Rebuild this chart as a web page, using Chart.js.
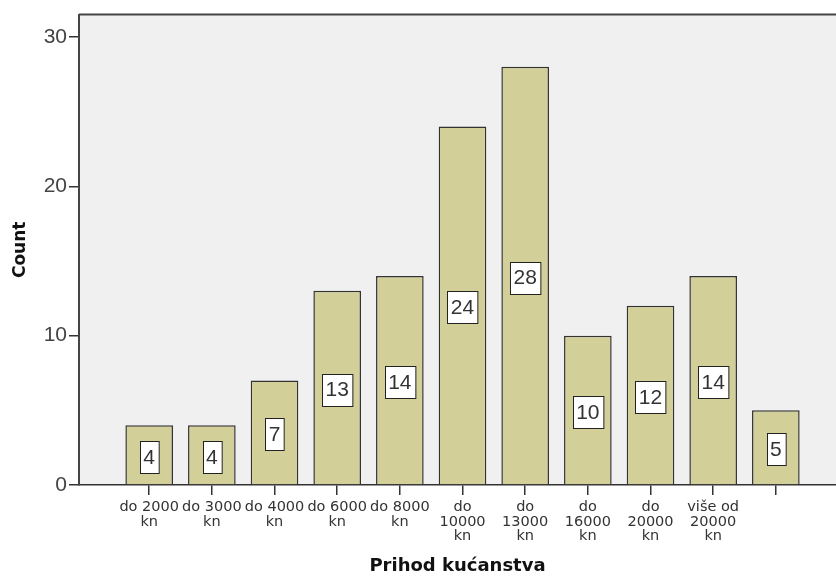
<!DOCTYPE html>
<html>
<head>
<meta charset="utf-8">
<script src="https://cdn.jsdelivr.net/npm/chart.js@4"></script>
<style>
  html, body { margin: 0; padding: 0; background: #fff; }
  #wrap { width: 836px; height: 577px; }
</style>
</head>
<body>
<div id="wrap"><canvas id="myChart"></canvas></div>
<script>
const categories = [
  ["do 2000", "kn"], ["do 3000", "kn"], ["do 4000", "kn"], ["do 6000", "kn"], ["do 8000", "kn"],
  ["do", "10000", "kn"], ["do", "13000", "kn"], ["do", "16000", "kn"], ["do", "20000", "kn"],
  ["više od", "20000", "kn"], [""]
];
const counts = [4, 4, 7, 13, 14, 24, 28, 10, 12, 14, 5];
const yTicks = [0, 10, 20, 30];

const barData = counts.map((v, i) => ({ x: i, y: v }));

// plot background + top frame line
const frame = {
  id: "frame",
  beforeDraw: (chart) => {
    const a = chart.chartArea;
    const c = chart.ctx;
    c.save();
    c.fillStyle = "#f0f0f0";
    c.fillRect(a.left, a.top, a.right - a.left, a.bottom - a.top);
    c.strokeStyle = "#444";
    c.lineWidth = 2;
    c.beginPath();
    c.moveTo(a.left, a.top);
    c.lineTo(a.right, a.top);
    c.stroke();
    c.restore();
  },
};

// white boxed count labels in the middle of each bar
const boxLabels = {
  id: "boxLabels",
  afterDatasetsDraw: (chart) => {
    const c = chart.ctx;
    const meta = chart.getDatasetMeta(0);
    c.save();
    c.font = "21px 'Liberation Sans', Arial, sans-serif";
    c.textAlign = "center";
    c.textBaseline = "middle";
    meta.data.forEach((bar, i) => {
      const txt = String(counts[i]);
      const w = c.measureText(txt).width + 7;
      const h = 32;
      const cy = (bar.y + bar.base) / 2 + 2;
      const x0 = Math.round(bar.x - w / 2) + 0.5;
      const y0 = Math.round(cy - h / 2) + 0.5;
      c.fillStyle = "#fff";
      c.fillRect(x0, y0, w, h);
      c.strokeStyle = "#222";
      c.lineWidth = 1;
      c.strokeRect(x0, y0, w, h);
      c.fillStyle = "#333";
      c.fillText(txt, bar.x, cy + 1);
    });
    c.restore();
  },
};

new Chart(document.getElementById("myChart").getContext("2d"), {
  type: "bar",
  data: {
    datasets: [
      {
        data: barData,
        backgroundColor: "#d3cf98",
        borderColor: "#333",
        borderWidth: 1.5,
        categoryPercentage: 1,
        barPercentage: 0.76,
      },
    ],
  },
  options: {
    responsive: true,
    maintainAspectRatio: false,
    animation: false,
    layout: { padding: { top: 13, right: 0, left: 0, bottom: 0 } },
    plugins: {
      legend: { display: false },
      tooltip: { enabled: false },
    },
    scales: {
      x: {
        type: "linear",
        offset: false,
        min: -1.12,
        max: 10.96,
        afterBuildTicks: (scale) => {
          scale.ticks = categories.map((_, i) => ({ value: i }));
        },
        afterFit: (scale) => { scale.height = 92; },
        grid: { offset: false, drawOnChartArea: false, drawTicks: true, tickLength: 10, color: "#333", lineWidth: 1.5 },
        border: { display: true, color: "#333", width: 1.5 },
        ticks: {
          autoSkip: false,
          maxRotation: 0,
          padding: 5,
          color: "#333",
          font: { family: "'DejaVu Sans', Verdana, sans-serif", size: 14.5, lineHeight: 1.0 },
          callback: (v) => categories[v],
        },
        title: {
          display: true,
          text: "Prihod kućanstva",
          color: "#111",
          font: { family: "'DejaVu Sans', Verdana, sans-serif", size: 18, weight: "bold" },
          padding: { top: 7, bottom: 0 },
        },
      },
      y: {
        min: 0,
        max: 31.5,
        afterBuildTicks: (scale) => {
          scale.ticks = yTicks.map((v) => ({ value: v }));
        },
        afterFit: (scale) => { scale.width = 79; },
        grid: { drawOnChartArea: false, drawTicks: true, tickLength: 10, color: "#333", lineWidth: 1.5 },
        border: { display: true, color: "#444", width: 2 },
        ticks: {
          color: "#444",
          padding: 2,
          font: { family: "'Liberation Sans', Arial, sans-serif", size: 21 },
        },
        title: {
          display: true,
          text: "Count",
          color: "#111",
          font: { family: "'DejaVu Sans', Verdana, sans-serif", size: 17, weight: "bold" },
          padding: { top: 10, bottom: 0 },
        },
      },
    },
  },
  plugins: [frame, boxLabels],
});
</script>
</body>
</html>
